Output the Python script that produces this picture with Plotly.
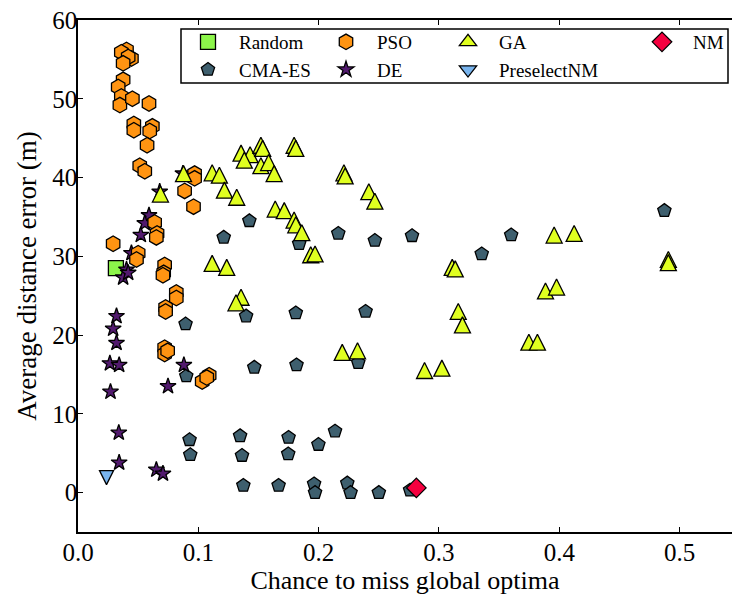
import plotly.graph_objects as go

# ---------------- data ----------------
random_x = [0.0315]
random_y = [28.5]

cma_x = [0.1424, 0.1211, 0.1838, 0.2163, 0.2467, 0.2776, 0.3600, 0.3355, 0.4873,
         0.1397, 0.1810, 0.2390, 0.0894, 0.0900, 0.1465, 0.1816, 0.2329,
         0.0927, 0.0933, 0.1347, 0.1363, 0.1750, 0.1747, 0.1998, 0.2136,
         0.1374, 0.1667, 0.1962, 0.1970, 0.2238, 0.2265, 0.2500, 0.2760]
cma_y = [34.5, 32.4, 31.6, 32.9, 32.0, 32.6, 32.7, 30.3, 35.8,
         22.4, 22.8, 23.0, 21.4, 14.8, 15.9, 16.2, 16.5,
         6.7, 4.8, 7.2, 4.7, 7.0, 4.9, 6.1, 7.8,
         0.9, 0.9, 1.1, 0.0, 1.2, 0.0, 0.0, 0.3]

de_x = [0.0590, 0.0555, 0.0522, 0.0444, 0.0403, 0.0375, 0.0417, 0.0320, 0.0292,
        0.0320, 0.0265, 0.0342, 0.0270, 0.0339, 0.0342, 0.0651, 0.0706, 0.0880,
        0.0748, 0.0679, 0.0872]
de_y = [35.2, 34.2, 32.7, 30.4, 28.3, 27.3, 27.9, 22.4, 20.8,
        19.0, 16.4, 16.2, 12.8, 7.6, 3.8, 2.9, 2.4, 16.2,
        13.5, 38.2, 40.5]

pso_x = [0.0403, 0.0360, 0.0444, 0.0417, 0.0375, 0.0375, 0.0334, 0.0360, 0.0348,
         0.0452, 0.0590, 0.0464, 0.0464, 0.0618, 0.0596, 0.0574, 0.0513, 0.0555,
         0.0969, 0.0969, 0.0886, 0.0960, 0.0637, 0.0657, 0.0651, 0.0292, 0.0500,
         0.0486, 0.0720, 0.0712, 0.0706, 0.0817, 0.0817, 0.0728, 0.0728, 0.0720,
         0.0720, 0.0745, 0.1090, 0.1032, 0.1070]
pso_y = [56.2, 55.9, 55.1, 55.3, 54.5, 52.4, 51.5, 50.3, 49.2,
         50.0, 49.4, 46.8, 46.0, 46.5, 45.9, 44.1, 41.5, 40.8,
         40.5, 39.9, 38.3, 36.3, 34.3, 32.9, 32.4, 31.6, 30.4,
         29.6, 28.9, 27.9, 27.6, 25.4, 24.7, 23.5, 23.0, 18.4,
         17.6, 18.0, 14.9, 14.1, 14.6]

ga_x = [0.0685, 0.0877, 0.1115, 0.1175, 0.1217, 0.1319, 0.1355, 0.1430, 0.1382,
        0.1520, 0.1535, 0.1796, 0.1810, 0.1520, 0.1584, 0.1630, 0.1639, 0.1714,
        0.1796, 0.1810, 0.1860, 0.1934, 0.1970, 0.1115, 0.1236, 0.1355, 0.1313,
        0.2210, 0.2220, 0.2417, 0.2467, 0.2196, 0.2323, 0.3110, 0.3135, 0.3160,
        0.3195, 0.2880, 0.3024, 0.3957, 0.4123, 0.3885, 0.3977, 0.3747, 0.3818,
        0.4906, 0.4906]
ga_y = [37.9, 40.5, 40.6, 40.3, 38.4, 37.5, 43.1, 42.9, 42.2,
        44.1, 43.7, 44.1, 43.7, 41.5, 41.9, 40.5, 36.0, 35.8,
        34.6, 34.0, 33.0, 30.2, 30.3, 29.1, 28.6, 24.8, 24.1,
        40.6, 40.2, 38.2, 37.0, 17.8, 18.0, 28.6, 28.4, 23.0,
        21.3, 15.5, 15.8, 32.7, 32.9, 25.6, 26.1, 19.1, 19.1,
        29.6, 29.2]

presel_x = [0.0237]
presel_y = [1.9]

nm_x = [0.2812]
nm_y = [0.6]

x_ticks = [0.0, 0.1, 0.2, 0.3, 0.4, 0.5]
y_ticks = [0, 10, 20, 30, 40, 50, 60]

# ---------------- layout constants ----------------
W, H = 732, 596
ML, MR, MT, MB = 78, 0, 20, 64
PW, PH = W - ML - MR, H - MT - MB
FONT = "'Liberation Serif', 'Times New Roman', 'DejaVu Serif', serif"

GA_COLOR = "#E0FF20"
PRESEL_COLOR = "#78B4EE"


def px_x(p):
    return (p - ML) / PW


def px_y(p):
    return 1 - (p - MT) / PH


fig = go.Figure()


def add(name, x, y, symbol, color, size, legend, rank, standoff=0, angle=0, show=True):
    fig.add_trace(go.Scatter(
        x=x, y=y, mode="markers", name=name,
        marker=dict(symbol=symbol, size=size, color=color, standoff=standoff, angle=angle,
                    line=dict(color="black", width=1.3)),
        legend=legend, legendgroup=name, legendrank=rank, showlegend=show,
    ))


def legend_proxy(name, symbol, color, size, legend, rank):
    fig.add_trace(go.Scatter(
        x=[None], y=[None], mode="markers", name=name,
        marker=dict(symbol=symbol, size=size, color=color,
                    line=dict(color="black", width=1.3)),
        legend=legend, legendgroup=name, legendrank=rank, showlegend=True,
        hoverinfo="skip",
    ))


add("Random", random_x, random_y, "square", "#8CF54A", 15, "legend", 1)
add("CMA-ES", cma_x, cma_y, "pentagon", "#3E5F6E", 14, "legend", 2)
add("DE", de_x, de_y, "star", "#521A6E", 12, "legend2", 2)
add("PSO", pso_x, pso_y, "hexagon", "#FF9412", 15.5, "legend2", 1)
# matplotlib-like triangles (as tall as wide), centred on the data point
add("GA", ga_x, ga_y, "arrow-down", GA_COLOR, 16, "legend3", 1,
    standoff=8, angle=180, show=False)
add("PreselectNM", presel_x, presel_y, "arrow-down", PRESEL_COLOR, 14, "legend3", 2,
    standoff=7, show=False)
add("NM", nm_x, nm_y, "diamond", "#F5003F", 15, "legend4", 1)
legend_proxy("GA", "triangle-up", GA_COLOR, 15, "legend3", 1)
legend_proxy("PreselectNM", "triangle-down", PRESEL_COLOR, 15, "legend3", 2)

leg_common = dict(
    orientation="v", xanchor="left", yanchor="top",
    bgcolor="rgba(0,0,0,0)", borderwidth=0,
    font=dict(family=FONT, size=19, color="black"),
    itemwidth=52, tracegroupgap=2, traceorder="normal",
)
leg_top = px_y(23)
fig.update_layout(
    legend=dict(x=px_x(207 - 30), y=leg_top, **leg_common),
    legend2=dict(x=px_x(345 - 30), y=leg_top, **leg_common),
    legend3=dict(x=px_x(467 - 30), y=leg_top, **leg_common),
    legend4=dict(x=px_x(661 - 30), y=leg_top, **leg_common),
)

# legend frame
fig.add_shape(type="rect", xref="paper", yref="paper",
              x0=px_x(181), x1=px_x(728), y0=px_y(83), y1=px_y(29),
              line=dict(color="black", width=1.5), fillcolor="white", layer="above")

fig.update_layout(
    width=W, height=H,
    margin=dict(l=ML, r=MR, t=MT, b=MB, pad=0),
    paper_bgcolor="white", plot_bgcolor="white",
    font=dict(family=FONT, size=25, color="black"),
    showlegend=True,
    xaxis=dict(
        range=[0, 0.5435], tickvals=x_ticks, ticktext=[f"{v:.1f}" for v in x_ticks],
        ticks="inside", ticklen=5, tickwidth=1, tickcolor="black",
        showline=True, linecolor="black", linewidth=1.5, mirror="ticks",
        showgrid=False, zeroline=False, automargin=False, ticklabelstandoff=-3,
        title=dict(text="Chance to miss global optima", font=dict(family=FONT, size=26), standoff=4),
        tickfont=dict(family=FONT, size=25),
    ),
    yaxis=dict(
        range=[-5, 60], tickvals=y_ticks,
        ticks="inside", ticklen=5, tickwidth=1, tickcolor="black",
        showline=True, linecolor="black", linewidth=1.5, mirror=False,
        showgrid=False, zeroline=False, automargin=False, ticklabelstandoff=-6,
        title=dict(text="Average distance error (m)", font=dict(family=FONT, size=27), standoff=8),
        tickfont=dict(family=FONT, size=25),
    ),
)

fig.write_html("out.html")
